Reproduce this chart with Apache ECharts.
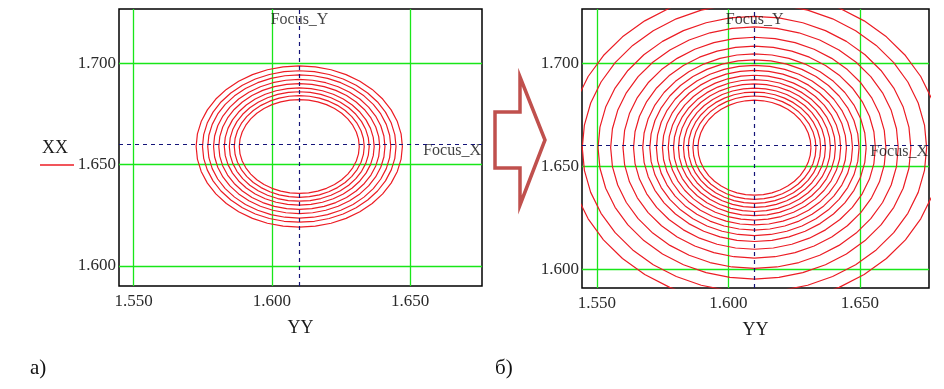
<!DOCTYPE html>
<html>
<head>
<meta charset="utf-8">
<script src="https://cdn.jsdelivr.net/npm/echarts@6/dist/echarts.min.js"></script>
<style>
html, body { margin: 0; padding: 0; background: #fff; }
#chart { width: 944px; height: 389px; }
</style>
</head>
<body>
<div id="chart"></div>
<script>
// полуширины колец (по оси YY)
var ringsA = [0.0217, 0.0235, 0.0253, 0.0271, 0.0291, 0.0310, 0.0331, 0.0350, 0.0373]
var ringsB = [0.0215, 0.0234, 0.0252, 0.0270, 0.0289, 0.0308, 0.0328, 0.0350, 0.0373, 0.0398,
  0.0425, 0.0460, 0.0500, 0.0547, 0.0595, 0.0655, 0.0710]
var ringCenter = [1.6099, 1.659]
var ringAspect = 1.07 // полувысота XX / полуширина YY
var focusY = 1.61
var focusX = 1.658
var yyTicks = [1.55, 1.6, 1.65]
var xxTicks = [1.6, 1.65, 1.7]
var yyRangeA = [1.5447, 1.676]
var xxRangeA = [1.59, 1.727]
var yyRangeB = [1.5443, 1.6763]
var xxRangeB = [1.591, 1.7262]

var serif = 'Liberation Serif'
var red = '#ec1c24'

function ring(w) {
  var pts = []
  for (var k = 0; k <= 40; k++) {
    var t = (k / 40) * Math.PI * 2
    pts.push([ringCenter[0] + w * Math.cos(t), ringCenter[1] + w * ringAspect * Math.sin(t)])
  }
  return pts
}

function xAx(idx, range) {
  return {
    type: 'value',
    gridIndex: idx,
    min: range[0],
    max: range[1],
    name: 'YY',
    nameLocation: 'middle',
    nameGap: 33,
    nameTextStyle: { fontFamily: serif, fontSize: 18, color: '#1a1a1a' },
    axisLine: { show: false },
    axisTick: { show: false, customValues: yyTicks },
    axisLabel: {
      customValues: yyTicks,
      margin: 7,
      fontFamily: serif,
      fontSize: 17,
      color: '#2a2a2a',
      formatter: function (v) { return v.toFixed(3) },
    },
    splitLine: { show: true, lineStyle: { color: '#19e619', width: 1.3 } },
  }
}

function yAx(idx, range) {
  return {
    type: 'value',
    gridIndex: idx,
    min: range[0],
    max: range[1],
    axisLine: { show: false },
    axisTick: { show: false, customValues: xxTicks },
    axisLabel: {
      customValues: xxTicks,
      margin: 3,
      fontFamily: serif,
      fontSize: 17,
      color: '#2a2a2a',
      formatter: function (v) { return v.toFixed(3) },
    },
    splitLine: { show: true, lineStyle: { color: '#19e619', width: 1.3 } },
  }
}

function ringSeries(list, idx) {
  return list.map(function (w) {
    return {
      name: 'XX',
      type: 'line',
      xAxisIndex: idx,
      yAxisIndex: idx,
      data: ring(w),
      showSymbol: false,
      silent: true,
      lineStyle: { color: red, width: 1.2 },
      z: 3,
    }
  })
}

function focusSeries(idx, yyRange, xxRange) {
  var lbl = { fontFamily: serif, fontSize: 16, color: '#111' }
  return {
    type: 'scatter',
    xAxisIndex: idx,
    yAxisIndex: idx,
    symbolSize: 0,
    clip: false,
    silent: true,
    z: 4,
    data: [
      { value: [focusY, xxRange[1]], label: Object.assign({ show: true, position: 'bottom', distance: 3, formatter: 'Focus_Y' }, lbl) },
      { value: [yyRange[1], focusX], label: Object.assign({ show: true, position: 'left', distance: 1, offset: [0, 2], formatter: 'Focus_X' }, lbl) },
    ],
    markLine: {
      symbol: 'none',
      silent: true,
      label: { show: false },
      lineStyle: { color: '#141478', type: [4, 4], width: 1.2 },
      data: [{ xAxis: focusY }, { yAxis: focusX }],
    },
  }
}

var chart = echarts.init(document.getElementById('chart'))
var option = {
  animation: false,
  backgroundColor: '#fff',
  grid: [
    { left: 119, top: 9, width: 363, height: 277, show: true, borderColor: '#000', borderWidth: 1.5, backgroundColor: 'transparent' },
    { left: 582, top: 9, width: 347, height: 279, show: true, borderColor: '#000', borderWidth: 1.5, backgroundColor: 'transparent' },
  ],
  xAxis: [xAx(0, yyRangeA), xAx(1, yyRangeB)],
  yAxis: [yAx(0, xxRangeA), yAx(1, xxRangeB)],
  series: [].concat(
    ringSeries(ringsA, 0),
    ringSeries(ringsB, 1),
    [focusSeries(0, yyRangeA, xxRangeA), focusSeries(1, yyRangeB, xxRangeB)]
  ),
  graphic: [
    // легенда XX
    { type: 'text', left: 42, top: 139, style: { text: 'XX', font: '18px "Liberation Serif"', fill: '#1a1a1a' } },
    { type: 'line', shape: { x1: 40, y1: 165, x2: 74, y2: 165 }, style: { stroke: red, lineWidth: 1.3 } },
    // стрелка
    {
      type: 'polygon',
      shape: { points: [[495, 112], [520, 112], [520, 77], [545, 140], [520, 205], [520, 168], [495, 168]] },
      style: { fill: 'none', stroke: '#c0504d', lineWidth: 3.5 },
    },
    { type: 'text', left: 30, top: 358, style: { text: 'а)', font: '21px "Liberation Serif"', fill: '#111' } },
    { type: 'text', left: 495, top: 358, style: { text: 'б)', font: '21px "Liberation Serif"', fill: '#111' } },
  ],
}
chart.setOption(option)
</script>
</body>
</html>
